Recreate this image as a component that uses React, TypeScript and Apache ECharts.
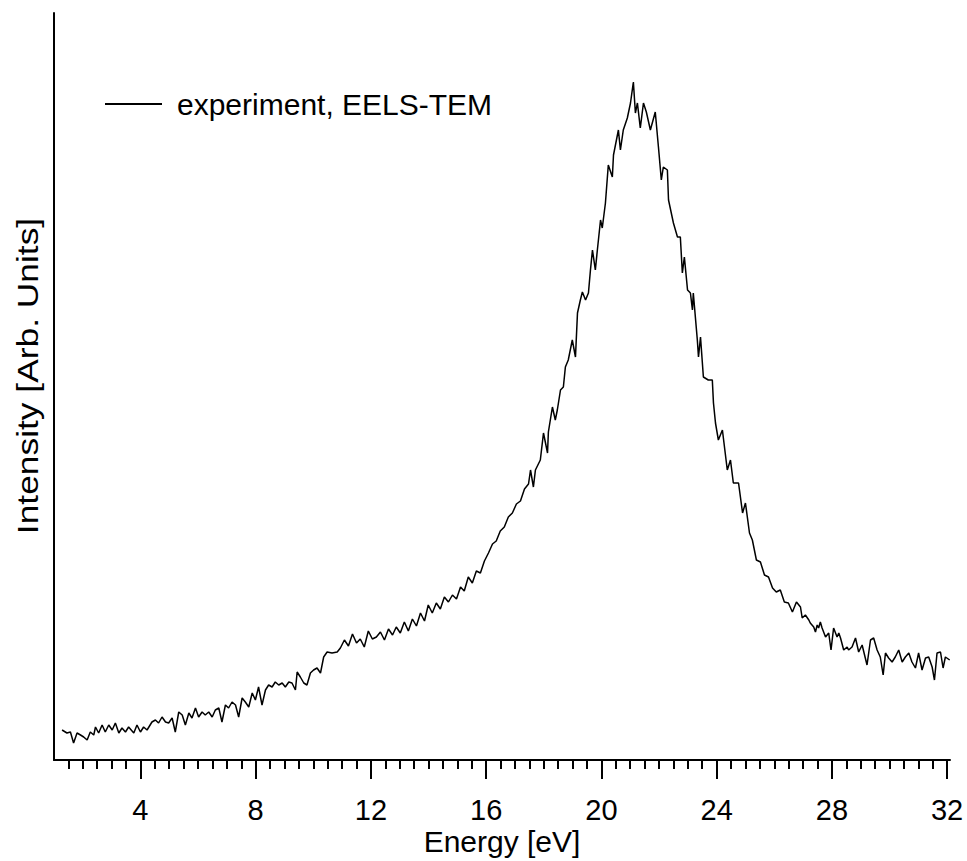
import React, { useEffect, useRef } from "react";
import * as echarts from "echarts";

const FONT = '"Liberation Sans", Arial, Helvetica, sans-serif';

const seriesName = "experiment, EELS-TEM";
const xAxisTitle = "Energy [eV]";
const yAxisTitle = "Intensity [Arb. Units]";

const majorTicks = [4, 8, 12, 16, 20, 24, 28, 32];
const minorTicks: number[] = [];
for (let v = 1.5; v < 32; v += 0.5) {
  if (v % 4 !== 0) minorTicks.push(v);
}

// Energy (eV)
const energy = [
  1.28, 1.45, 1.57, 1.68, 1.8, 1.92, 2.03, 2.15, 2.26, 2.38,
  2.44, 2.55, 2.67, 2.78, 2.9, 3.02, 3.13, 3.25, 3.36, 3.48,
  3.59, 3.77, 3.88, 4.0, 4.11, 4.23, 4.4, 4.52, 4.63, 4.75,
  4.87, 4.98, 5.1, 5.21, 5.33, 5.45, 5.56, 5.68, 5.79, 5.91,
  6.02, 6.14, 6.25, 6.37, 6.49, 6.6, 6.72, 6.83, 6.95, 7.06,
  7.18, 7.3, 7.41, 7.53, 7.64, 7.76, 7.88, 7.99, 8.1, 8.22,
  8.34, 8.45, 8.57, 8.68, 8.8, 8.92, 9.03, 9.15, 9.26, 9.38,
  9.44, 9.55, 9.67, 9.78, 9.9, 10.01, 10.13, 10.25, 10.36, 10.48,
  10.65, 10.83,
  10.94, 11.08, 11.22, 11.36, 11.5, 11.63, 11.77, 11.91, 12.05, 12.19,
  12.33, 12.47, 12.61, 12.75, 12.88, 13.02, 13.16, 13.3, 13.44, 13.58,
  13.72, 13.86, 13.99, 14.13, 14.27, 14.41, 14.55, 14.69, 14.83, 14.97,
  15.11, 15.24, 15.38, 15.52, 15.66, 15.8, 15.94, 16.08, 16.22, 16.35,
  16.49, 16.63, 16.77, 16.91, 17.05, 17.19, 17.33, 17.47,
  17.54, 17.64, 17.71, 17.88, 17.99, 18.13, 18.16, 18.3, 18.4, 18.47,
  18.58, 18.68, 18.75, 18.85, 18.99, 19.1, 19.17, 19.27, 19.34, 19.45,
  19.55, 19.62, 19.69, 19.79, 19.86, 19.97, 20.03, 20.14, 20.24, 20.38,
  20.42, 20.59, 20.66, 20.76, 20.9, 21.01, 21.11, 21.18, 21.25, 21.35,
  21.46, 21.56, 21.7, 21.87, 21.98, 22.08, 22.15, 22.29, 22.33, 22.5,
  22.64, 22.74, 22.81, 22.88, 22.99, 23.09, 23.16, 23.19, 23.33, 23.37,
  23.44, 23.54, 23.71, 23.85, 23.89, 23.96, 24.06, 24.2, 24.37, 24.48,
  24.58, 24.76, 24.9, 25.0, 25.14,
  25.24, 25.38, 25.52, 25.66, 25.8, 25.94, 26.07, 26.21, 26.35, 26.49,
  26.63, 26.77,
  26.91, 26.97, 27.08, 27.2, 27.25, 27.37, 27.43, 27.49, 27.54, 27.6,
  27.66, 27.78, 27.89, 27.97, 28.06, 28.18, 28.24, 28.3, 28.41, 28.53,
  28.58, 28.7, 28.82, 28.93, 29.05, 29.16, 29.22, 29.34, 29.45, 29.57,
  29.68, 29.78, 29.86, 29.97, 30.09, 30.2, 30.32, 30.44, 30.55, 30.67,
  30.78, 30.9, 31.01, 31.13, 31.25, 31.36, 31.48, 31.56, 31.65, 31.77,
  31.86, 31.94, 32.09,
];

// Intensity (arbitrary units)
const intensity = [
  30, 27, 28, 17, 27, 25, 23, 20, 28, 25,
  33, 27, 35, 28, 35, 30, 37, 27, 32, 28,
  33, 27, 35, 28, 33, 30, 38, 40, 37, 43,
  38, 37, 42, 28, 48, 45, 35, 47, 42, 52,
  43, 48, 45, 48, 43, 50, 52, 38, 55, 52,
  58, 55, 43, 62, 58, 53, 67, 60, 73, 55,
  70, 75, 73, 78, 75, 77, 73, 78, 77, 70,
  88, 83, 77, 75, 87, 90, 92, 87, 103, 108,
  107, 108,
  112, 120, 114, 126, 117, 121, 113, 129, 121, 123,
  128, 120, 131, 125, 133, 127, 138, 129, 141, 134,
  147, 139, 155, 147, 157, 151, 163, 158, 165, 161,
  173, 169, 183, 177, 189, 187, 199, 207, 216, 219,
  229, 233, 243, 247, 256, 259, 271, 276,
  290, 273, 290, 300, 327, 307, 328, 353, 340, 350,
  370, 373, 393, 400, 420, 403, 447, 460, 468, 460,
  467, 490, 510, 490, 510, 540, 532, 557, 595, 583,
  605, 630, 610, 630, 642, 657, 678, 647, 657, 632,
  657, 648, 630, 648, 613, 580, 593, 590, 560, 537,
  523, 523, 487, 503, 470, 467, 450, 467, 420, 403,
  423, 383, 380, 380, 357, 337, 320, 330, 290, 300,
  277, 277, 247, 257, 227,
  220, 200, 198, 185, 183, 172, 168, 170, 158, 157,
  148, 158,
  153, 142, 145, 140, 137, 133, 128, 135, 132, 138,
  132, 123, 127, 110, 132, 123, 127, 122, 110, 113,
  110, 113, 122, 108, 115, 102, 95, 120, 122, 110,
  103, 85, 107, 102, 98, 103, 110, 98, 103, 107,
  98, 92, 107, 90, 102, 103, 93, 80, 107, 108,
  92, 103, 100,
];

export default function App() {
  const ref = useRef<HTMLDivElement>(null);

  useEffect(() => {
    if (!ref.current) return;
    const chart = echarts.init(ref.current, null, { renderer: "svg" });
    const data = energy.map((e, i) => [e, intensity[i]]);
    const axisLineStyle = { color: "#000", width: 2 };

    const option: any = {
      animation: false,
      backgroundColor: "#fff",
      textStyle: { fontFamily: FONT },
      grid: { left: 54, right: 17, top: 13, bottom: 101, outerBoundsMode: "none" },
      xAxis: [
        {
          type: "value",
          min: 1,
          max: 32.1,
          position: "bottom",
          axisLine: { show: true, onZero: false, lineStyle: axisLineStyle },
          axisTick: { show: true, customValues: minorTicks, length: 9, lineStyle: axisLineStyle },
          axisLabel: { show: false },
          splitLine: { show: false },
        },
        {
          type: "value",
          min: 1,
          max: 32.1,
          position: "bottom",
          axisLine: { show: false, onZero: false },
          axisTick: { show: true, customValues: majorTicks, length: 19, lineStyle: axisLineStyle },
          axisLabel: {
            show: true,
            customValues: majorTicks,
            fontSize: 29,
            color: "#000",
            margin: 35,
            fontFamily: FONT,
          },
          splitLine: { show: false },
          name: xAxisTitle,
          nameLocation: "middle",
          nameGap: 66,
          nameMoveOverlap: false,
          nameTextStyle: { fontSize: 30, color: "#000", fontFamily: FONT },
        },
      ],
      yAxis: {
        type: "value",
        min: 0,
        max: 747,
        axisLine: { show: true, onZero: false, lineStyle: axisLineStyle },
        axisTick: { show: false },
        axisLabel: { show: false },
        splitLine: { show: false },
      },
      legend: {
        show: true,
        left: 100,
        top: 84,
        itemWidth: 57,
        itemHeight: 2,
        data: [{ name: seriesName, icon: "rect" }],
        itemStyle: { color: "#000", borderWidth: 0 },
        textStyle: { fontSize: 30, color: "#000", fontFamily: FONT, padding: [0, 0, 5, 10] },
      },
      series: [
        {
          type: "line",
          name: seriesName,
          data,
          xAxisIndex: 0,
          yAxisIndex: 0,
          symbol: "none",
          showSymbol: false,
          color: "#000",
          lineStyle: { color: "#000", width: 1.5 },
        },
      ],
      graphic: [
        {
          type: "text",
          x: 28,
          y: 376,
          rotation: Math.PI / 2,
          scaleX: 1.22,
          style: {
            text: yAxisTitle,
            fontSize: 29,
            fontFamily: FONT,
            fill: "#000",
            textAlign: "center",
            textVerticalAlign: "middle",
          },
        },
      ],
    };
    chart.setOption(option);
    return () => chart.dispose();
  }, []);

  return (
    <div
      ref={ref}
      style={{ position: "fixed", left: 0, top: 0, width: 967, height: 861, background: "#fff" }}
    />
  );
}
